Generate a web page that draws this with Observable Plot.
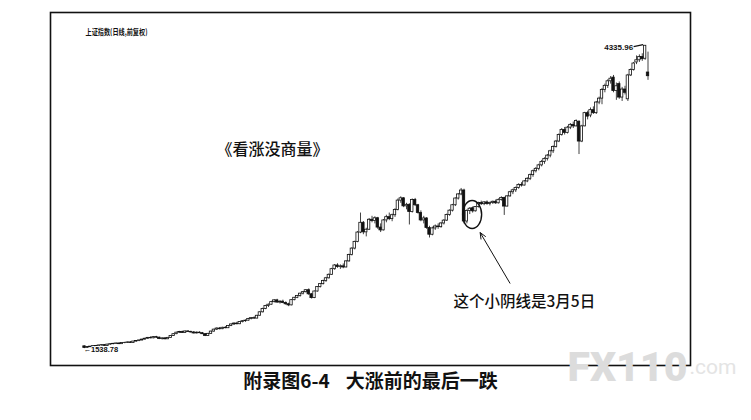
<!DOCTYPE html>
<html><head><meta charset="utf-8">
<script src="https://cdn.jsdelivr.net/npm/d3@7"></script>
<script src="https://cdn.jsdelivr.net/npm/@observablehq/plot@0.6"></script>
<style>
body{margin:0;background:#fff;}
#chart{width:751px;height:420px;}
</style></head><body><div id="chart"></div>
<script>
// Daily candles, Shanghai Composite
const open = [
1560,1546,1552,1557,1563,1558,1568,1571,1564,1576,
1580,1583,1586,1580,1590,1592,1596,1591,1604,1609,
1614,1622,1630,1638,1634,1645,1640,1628,1633,1625,
1638,1656,1672,1686,1692,1684,1697,1693,1688,1679,
1686,1681,1672,1656,1675,1696,1714,1724,1718,1731,
1727,1748,1762,1770,1764,1784,1792,1797,1812,1820,
1816,1842,1874,1905,1932,1944,1968,1984,1964,1972,
1960,1948,1938,1986,2008,2024,2046,2060,2078,2040,
2005,2066,2108,2134,2162,2188,2220,2272,2306,2292,
2298,2288,2344,2402,2462,2524,2610,2700,2612,2636,
2728,2716,2742,2656,2630,2722,2752,2734,2770,2818,
2905,2926,2852,2866,2800,2910,2862,2790,2722,2740,
2652,2590,2648,2666,2660,2694,2720,2772,2812,2862,
2924,2962,2998,2712,2810,2834,2806,2846,2882,2872,
2888,2874,2884,2894,2880,2912,2930,2850,2944,2982,
3000,3022,3050,3044,3082,3106,3140,3176,3198,3230,
3262,3290,3320,3360,3400,3450,3510,3556,3530,3578,
3604,3590,3630,3450,3590,3712,3690,3740,3712,3810,
3846,3926,3964,4006,4040,3916,3980,3856,3930,3840,
4060,4110,4180,4200,4230,4214,4087];
const high = [
1562,1556,1560,1566,1568,1570,1576,1575,1578,1584,
1588,1590,1591,1594,1597,1600,1603,1606,1612,1618,
1625,1634,1642,1648,1650,1652,1645,1638,1640,1642,
1660,1676,1690,1698,1700,1702,1706,1700,1696,1692,
1694,1688,1678,1680,1700,1718,1730,1734,1736,1742,
1752,1766,1776,1782,1788,1798,1804,1818,1826,1832,
1846,1880,1912,1938,1950,1975,1992,1994,1980,1986,
1970,1958,1990,2012,2030,2050,2066,2084,2090,2048,
2070,2112,2140,2170,2196,2228,2280,2315,2322,2312,
2320,2350,2410,2470,2530,2620,2790,2712,2650,2740,
2760,2756,2750,2690,2730,2770,2790,2780,2830,2920,
2940,2932,2880,2876,2920,2925,2870,2810,2760,2748,
2668,2660,2680,2690,2700,2730,2780,2820,2870,2930,
2970,3017,3010,2820,2840,2846,2850,2890,2900,2896,
2902,2890,2900,2910,2920,2940,2936,2950,2990,3010,
3030,3060,3070,3090,3116,3150,3186,3210,3240,3276,
3300,3330,3370,3410,3460,3520,3570,3580,3590,3616,
3630,3650,3644,3600,3720,3730,3760,3770,3820,3860,
3940,3980,4020,4050,4060,3990,4000,3950,3960,4070,
4120,4180,4240,4250,4260,4335.96,4275];
const low = [
1538.78,1542,1547,1551,1554,1555,1562,1560,1561,1570,
1574,1577,1576,1578,1584,1586,1588,1589,1598,1603,
1610,1617,1624,1629,1630,1633,1622,1618,1620,1622,
1635,1652,1668,1678,1680,1682,1688,1682,1674,1675,
1677,1668,1650,1652,1672,1690,1706,1712,1714,1722,
1724,1742,1752,1758,1760,1776,1782,1792,1804,1810,
1814,1838,1868,1898,1918,1940,1960,1958,1950,1954,
1940,1926,1934,1980,2000,2014,2034,2052,2030,1996,
2000,2060,2098,2126,2150,2180,2214,2262,2280,2270,
2276,2284,2336,2394,2450,2516,2600,2590,2570,2630,
2700,2690,2640,2610,2625,2700,2720,2710,2750,2810,
2880,2840,2820,2680,2790,2850,2780,2710,2690,2640,
2560,2580,2630,2640,2650,2680,2712,2760,2800,2850,
2910,2950,2690,2690,2776,2790,2800,2836,2860,2858,
2862,2856,2870,2870,2874,2900,2768,2846,2936,2960,
2980,3010,3030,3040,3070,3090,3120,3160,3180,3216,
3240,3270,3300,3340,3390,3440,3500,3510,3520,3560,
3570,3585,3330,3440,3586,3650,3670,3700,3700,3790,
3790,3900,3940,3980,3900,3830,3840,3820,3880,3820,
4050,4100,4160,4180,4190,4200,4015];
const close = [
1545,1553,1557,1562,1558,1568,1571,1564,1576,1580,
1583,1586,1580,1590,1592,1596,1591,1604,1609,1614,
1622,1630,1638,1634,1645,1640,1628,1633,1625,1638,
1656,1672,1686,1692,1684,1697,1693,1688,1679,1686,
1681,1672,1656,1675,1696,1714,1724,1718,1731,1727,
1748,1762,1770,1764,1784,1792,1797,1812,1820,1816,
1842,1874,1905,1932,1944,1968,1984,1964,1972,1960,
1948,1938,1986,2008,2024,2046,2060,2078,2040,2005,
2066,2108,2134,2162,2188,2220,2272,2306,2292,2298,
2288,2344,2402,2462,2524,2610,2700,2612,2636,2728,
2716,2742,2656,2630,2722,2752,2734,2770,2818,2905,
2926,2852,2866,2800,2910,2862,2790,2722,2740,2652,
2590,2648,2666,2660,2694,2720,2772,2812,2862,2924,
2962,2998,2712,2810,2830,2806,2846,2882,2872,2888,
2874,2884,2894,2880,2912,2930,2850,2944,2982,3000,
3022,3050,3044,3082,3106,3140,3176,3198,3230,3262,
3290,3320,3360,3400,3450,3510,3556,3530,3578,3604,
3590,3640,3450,3590,3712,3680,3740,3712,3810,3846,
3926,3964,4006,4030,3916,3960,3856,3930,3900,4060,
4110,4170,4200,4230,4210,4334,4053];

const markedDay = 135; // 3月5日 small bearish candle
const titleText = "上证指数(日线,前复权)";
const bookText = "《看涨没商量》";
const noteText = "这个小阴线是3月5日";
const captionText = "附录图6-4\u2002\u2004大涨前的最后一跌";

const bars = close.map((c, i) => ({i, open: open[i], high: high[i], low: low[i], close: c, up: c >= open[i]}));
const peak = bars.reduce((a, b) => (b.high > a.high ? b : a));
const bottom = bars.reduce((a, b) => (b.low < a.low ? b : a));

const CJK = "'Noto Sans CJK SC', 'Noto Sans', sans-serif";
const NUM = "'Liberation Sans', 'DejaVu Sans', sans-serif";
const WM = "Roboto, 'Liberation Sans', sans-serif";

const chart = Plot.plot({
  width: 751, height: 420,
  marginTop: 12, marginBottom: 55, marginLeft: 50, marginRight: 61,
  x: {domain: [-11.83, 210.78], axis: null},
  y: {domain: [1383, 4641], axis: null},
  style: {background: "#fff", overflow: "visible"},
  marks: [
    Plot.ruleX(bars, {x: "i", y1: "low", y2: "high", stroke: "#111", strokeWidth: 0.8}),
    Plot.rect(bars, {x1: d => d.i - 0.42, x2: d => d.i + 0.42, y1: "open", y2: "close",
      fill: d => d.up ? "#fff" : "#111", stroke: "#111", strokeWidth: 0.8}),
    Plot.frame({stroke: "#111", strokeWidth: 1.6}),
    Plot.text([bottom], {x: "i", y: "low", text: d => "←" + d.low.toFixed(2), textAnchor: "start",
      dx: -1, dy: 1, fontSize: 7.5, fontWeight: "bold", fontFamily: NUM, fill: "#111",
      stroke: "#fff", strokeWidth: 2, paintOrder: "stroke"}),
    Plot.text([peak], {x: "i", y: "high", text: d => d.high.toFixed(2), textAnchor: "end",
      dx: -12, dy: 1.5, fontSize: 8, fontWeight: "bold", fontFamily: NUM, fill: "#111"}),
    Plot.text([titleText], {frameAnchor: "top-left", text: d => d, dx: 35, dy: 17, textAnchor: "start",
      fontSize: 8, fontWeight: "bold", fontFamily: CJK, fill: "#111"}),
    Plot.text([bookText], {frameAnchor: "top-left", text: d => d, dx: 222, dy: 131, textAnchor: "middle",
      fontSize: 16, fontWeight: 500, fontFamily: CJK, fill: "#111"}),
    Plot.text([noteText], {frameAnchor: "top-left", text: d => d, dx: 403, dy: 283, textAnchor: "start",
      fontSize: 15.5, fontWeight: 500, fontFamily: CJK, fill: "#111"}),
    Plot.text([captionText], {frameAnchor: "bottom", text: d => d, dy: 22,
      fontSize: 19, fontWeight: "bold", fontFamily: CJK, fill: "#111"}),
    Plot.text(["FX110"], {frameAnchor: "bottom-left", text: d => d, dx: 517, dy: -14, textAnchor: "start",
      lineAnchor: "top", fontSize: 41, fontWeight: 900, fontFamily: WM, fill: "#dcdcdc"}),
    Plot.text([".com"], {frameAnchor: "bottom-left", text: d => d, dx: 639, dy: 8, textAnchor: "start",
      fontSize: 21, fontFamily: WM, fill: "#e4e4e4"})
  ]
});
document.getElementById("chart").appendChild(chart);

// annotation overlay anchored to the data
const svg = d3.select(chart);
const sx = chart.scale("x"), sy = chart.scale("y");
svg.selectAll("text").filter(function () { return this.textContent === titleText; })
  .attr("textLength", 62).attr("lengthAdjust", "spacingAndGlyphs");

const m = bars[markedDay];
const cx = sx.apply(m.i), cy = sy.apply((m.high + m.low) / 2) + 5;
const g = svg.append("g").attr("fill", "none").attr("stroke", "#111");
g.append("ellipse").attr("cx", cx).attr("cy", cy).attr("rx", 9.5).attr("ry", 14).attr("stroke-width", 1.4);
const tip = [cx + 8, cy + 18], tail = [cx + 38, cy + 69];
g.append("line").attr("x1", tail[0]).attr("y1", tail[1]).attr("x2", tip[0]).attr("y2", tip[1]).attr("stroke-width", 1);
const ang = Math.atan2(tail[1] - tip[1], tail[0] - tip[0]);
for (const s of [-0.4, 0.4]) {
  g.append("line").attr("x1", tip[0]).attr("y1", tip[1])
    .attr("x2", tip[0] + 7 * Math.cos(ang + s)).attr("y2", tip[1] + 7 * Math.sin(ang + s)).attr("stroke-width", 1);
}
const px = sx.apply(peak.i), py = sy.apply(peak.high);
g.append("line").attr("x1", px - 11).attr("y1", py + 1.5).attr("x2", px - 1.5).attr("y2", py - 0.5).attr("stroke-width", 1.2);
</script></body></html>
